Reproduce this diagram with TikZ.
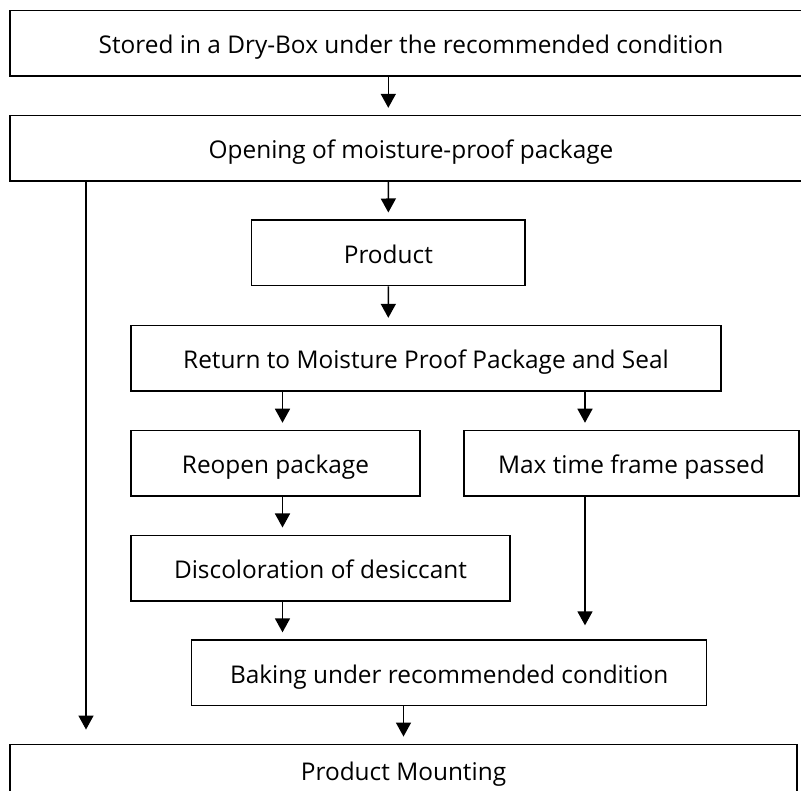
\documentclass[tikz,border=0pt]{standalone}
\usepackage{fontspec}
\setmainfont{Open Sans}
\usetikzlibrary{arrows.meta,calc}
\begin{document}
\begin{tikzpicture}[x=1pt,y=-1pt,
  box/.style={draw, line width=1.5pt, rectangle, minimum height=65.5pt, inner sep=0pt,
    text height=21pt, text depth=0pt, font=\fontsize{24.4}{28}\selectfont},
  arr/.style={line width=1.5pt, -{Triangle[length=14pt,width=15pt]}, shorten >=7pt},
  arrl/.style={arr, shorten >=14pt}]
\useasboundingbox (0,0) rectangle (801,791);
\clip (0,0) rectangle (801,791);
\node[box, minimum width=802pt] (b1) at (411,43.25) {Stored in a Dry-Box under the recommended condition};
\node[box, minimum width=802pt] (b2) at (411,148.35) {Opening of moisture-proof package};
\node[box, minimum width=273.3pt] (b3) at (388.35,253) {Product};
\node[box, minimum width=590pt] (b4) at (426,358.35) {Return to Moisture Proof Package and Seal};
\node[box, minimum width=289pt] (b5) at (275.5,463.25) {Reopen package};
\node[box, minimum width=335pt] (b6) at (631.5,463.25) {Max time frame passed};
\node[box, minimum width=379pt] (b7) at (320.5,568) {Discoloration of desiccant};
\node[box, minimum width=515pt] (b8) at (449.2,672.85) {Baking under recommended condition};
\node[box, minimum width=787pt, minimum height=50.4pt] (b9) at (403.5,769.5) {Product Mounting};
\coordinate (xa) at (388.3,0);
\coordinate (xb) at (282.5,0);
\coordinate (xc) at (585,0);
\coordinate (xl) at (86,0);
\coordinate (xm) at (403.5,0);
\draw[arr] (b1.south -| xa) -- (b2.north -| xa);
\draw[arr] (b2.south -| xa) -- (b3.north);
\draw[arr] (b3.south) -- (b4.north -| xa);
\draw[arr] (b4.south -| xb) -- (b5.north -| xb);
\draw[arr] (b4.south -| xc) -- (b6.north -| xc);
\draw[arr] (b5.south -| xb) -- (b7.north -| xb);
\draw[arr] (b7.south -| xb) -- (b8.north -| xb);
\draw[arrl] (b6.south -| xc) -- (b8.north -| xc);
\draw[arrl] (b2.south -| xl) -- (b9.north -| xl);
\draw[arr] (b8.south -| xm) -- (b9.north);
\end{tikzpicture}
\end{document}
